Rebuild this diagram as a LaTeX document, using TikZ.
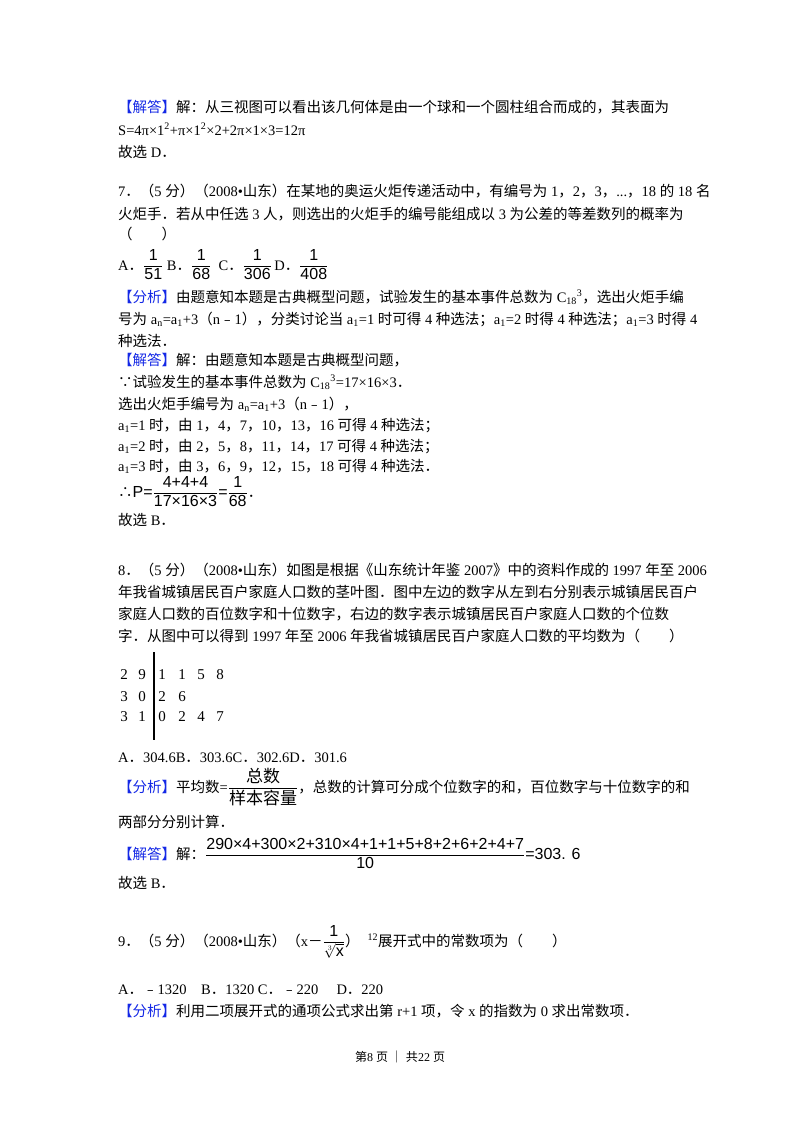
\documentclass[tikz,border=0pt]{standalone}
\usepackage{fontspec}
\setmainfont{Liberation Serif}
\newfontfamily\cjk{Noto Sans CJK SC}
\newfontfamily\fr{Liberation Sans}
\newcount\cc
\newXeTeXintercharclass\cjkcls
\cc="4E00 \loop \XeTeXcharclass\cc=\cjkcls \ifnum\cc<"9FFF \advance\cc 1 \repeat
\cc="3000 \loop \XeTeXcharclass\cc=\cjkcls \ifnum\cc<"303F \advance\cc 1 \repeat
\cc="FF01 \loop \XeTeXcharclass\cc=\cjkcls \ifnum\cc<"FF60 \advance\cc 1 \repeat
\XeTeXcharclass"2234=\cjkcls \XeTeXcharclass"2235=\cjkcls \XeTeXcharclass"FE63=\cjkcls
\XeTeXinterchartoks 0 \cjkcls = {\begingroup\cjk}
\XeTeXinterchartoks 4095 \cjkcls = {\begingroup\cjk}
\XeTeXinterchartoks \cjkcls 0 = {\endgroup}
\XeTeXinterchartoks \cjkcls 4095 = {\endgroup}
\XeTeXinterchartokenstate=1
\definecolor{tagblue}{RGB}{20,40,230}
\newcommand\tg[1]{\textcolor{tagblue}{#1}}
\newcommand\lo[1]{$_{\hbox{\fontsize{10}{10}\selectfont #1}}$}
\newcommand\hi[1]{$^{\hbox{\fontsize{10}{10}\selectfont #1}}$}
\newcommand\ff[2]{$\displaystyle\frac{\hbox{\fontsize{16}{16}\fr #1}}{\hbox{\fontsize{16}{16}\fr #2}}$}
\tikzset{ln/.style={anchor=base west,inner sep=0pt,font=\fontsize{14.5}{17}\selectfont}}
\begin{document}
\begin{tikzpicture}[x=1pt,y=-1pt]
\fill[white] (0,0) rectangle (800,1132);
\useasboundingbox (0,0) rectangle (800,1132);
\node[ln] (l1) at (118,112) {\tg{【解答】}解：从三视图可以看出该几何体是由一个球和一个圆柱组合而成的，其表面为};
\node[ln] (l2) at (118,135) {S=4π×1\hi{2}+π×1\hi{2}×2+2π×1×3=12π};
\node[ln] (l3) at (118,157) {故选 D．};
\node[ln] (l4) at (118,196) {7．（5 分）（2008•山东）在某地的奥运火炬传递活动中，有编号为 1，2，3，...，18 的 18 名};
\node[ln] (l5) at (118,219) {火炬手．若从中任选 3 人，则选出的火炬手的编号能组成以 3 为公差的等差数列的概率为};
\node[ln] (l6) at (118,239) {（　　）};
\node[ln] (l7) at (118,270) {A．\ff{1}{51}\ B．\ff{1}{68}\ \ C．\ff{1}{306}\,D．\ff{1}{408}};
\node[ln] (l8) at (118,302) {\tg{【分析】}由题意知本题是古典概型问题，试验发生的基本事件总数为 C\lo{18}\hi{3}，选出火炬手编};
\node[ln] (l9) at (118,324) {号为 a\lo{n}=a\lo{1}+3（n﹣1），分类讨论当 a\lo{1}=1 时可得 4 种选法；a\lo{1}=2 时得 4 种选法；a\lo{1}=3 时得 4};
\node[ln] (l10) at (118,346) {种选法．};
\node[ln] (l11) at (118,365) {\tg{【解答】}解：由题意知本题是古典概型问题，};
\node[ln] (l12) at (118,387) {∵试验发生的基本事件总数为 C\lo{18}\hi{3}=17×16×3．};
\node[ln] (l13) at (118,409) {选出火炬手编号为 a\lo{n}=a\lo{1}+3（n﹣1），};
\node[ln] (l14) at (118,430) {a\lo{1}=1 时，由 1，4，7，10，13，16 可得 4 种选法；};
\node[ln] (l15) at (118,451) {a\lo{1}=2 时，由 2，5，8，11，14，17 可得 4 种选法；};
\node[ln] (l16) at (118,471) {a\lo{1}=3 时，由 3，6，9，12，15，18 可得 4 种选法．};
\node[ln] (l17) at (118,497) {∴{\fontsize{16}{16}\fr P=}\ff{4+4+4}{17×16×3}{\fontsize{16}{16}\fr =}\ff{1}{68}．};
\node[ln] (l18) at (118,525) {故选 B．};
\node[ln] (l19) at (118,575) {8．（5 分）（2008•山东）如图是根据《山东统计年鉴 2007》中的资料作成的 1997 年至 2006};
\node[ln] (l20) at (118,597) {年我省城镇居民百户家庭人口数的茎叶图．图中左边的数字从左到右分别表示城镇居民百户};
\node[ln] (l21) at (118,619) {家庭人口数的百位数字和十位数字，右边的数字表示城镇居民百户家庭人口数的个位数};
\node[ln] (l22) at (118,641) {字．从图中可以得到 1997 年至 2006 年我省城镇居民百户家庭人口数的平均数为（　　）};
\draw[line width=1.2pt] (154,652) -- (154,740);
\foreach \t/\xx/\yy [count=\i] in {2/124/675,9/142/675,1/162/675,1/182/675,5/201/675,8/220/675,
  3/124/697,0/142/697,2/162/697,6/182/697,
  3/124/717,1/142/717,0/162/717,2/182/717,4/201/717,7/220/717}
  \node[inner sep=0pt,font=\fontsize{15}{15}\selectfont] (s\i) at (\xx,\yy) {\t};
\node[ln] (l23) at (118,762) {A．304.6B．303.6C．302.6D．301.6};
\node[ln] (l24) at (118,792) {\tg{【分析】}平均数=$\displaystyle\frac{\hbox{\fontsize{17}{17}\selectfont 总数}}{\hbox{\fontsize{17}{17}\selectfont 样本容量}}$，总数的计算可分成个位数字的和，百位数字与十位数字的和};
\node[ln] (l25) at (118,827) {两部分分别计算．};
\node[ln] (l26) at (118,859) {\tg{【解答】}解：\ff{290×4+300×2+310×4+1+1+5+8+2+6+2+4+7}{10}{\fontsize{16}{16}\fr =303. 6}};
\node[ln] (l27) at (118,888) {故选 B．};
\node[ln] (l28) at (118,946) {9．（5 分）（2008•山东）（x－$\displaystyle\frac{\hbox{\fontsize{16}{16}\fr 1}}{\sqrt[3]{\hbox{\fontsize{16}{16}\fr x}}}$）\hspace{8pt}\hi{12}展开式中的常数项为（　　）};
\node[ln] (l29) at (118,994) {A．﹣1320\quad B．1320 C．﹣220\quad\ D．220};
\node[ln] (l30) at (118,1016) {\tg{【分析】}利用二项展开式的通项公式求出第 r+1 项，令 x 的指数为 0 求出常数项．};
\node[inner sep=0pt,font=\fontsize{12}{14}\selectfont] (ft) at (400,1057) {第8 页 ｜ 共22 页};
\end{tikzpicture}
\end{document}
